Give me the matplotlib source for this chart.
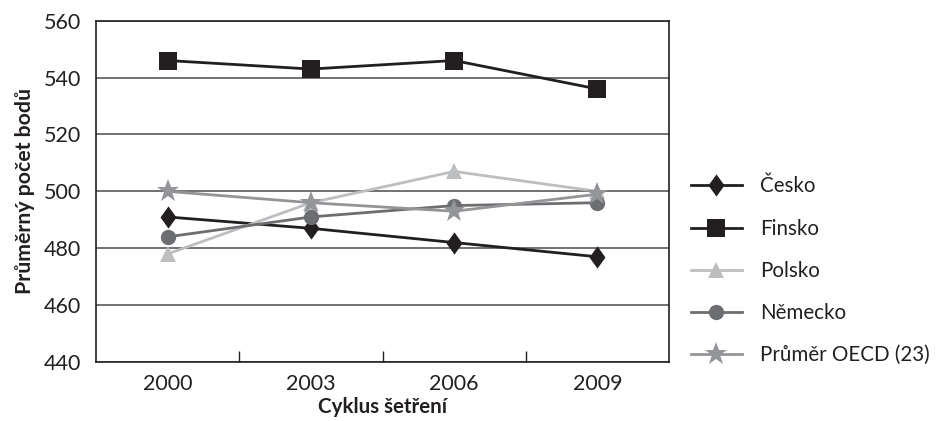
import matplotlib
matplotlib.use("Agg")
import matplotlib.pyplot as plt

plt.rcParams['font.family'] = ['Lato', 'DejaVu Sans']

cycles = ["2000", "2003", "2006", "2009"]
cesko = [491, 487, 482, 477]
finsko = [546, 543, 546, 536]
polsko = [478, 496, 507, 500]
nemecko = [484, 491, 495, 496]
oecd = [500, 496, 493, 499]

series_names = ["Česko", "Finsko", "Polsko", "Německo", "Průměr OECD (23)"]

diamond = [(0, 1), (0.72, 0), (0, -1), (-0.72, 0), (0, 1)]
styles = [
    dict(color="#231f20", marker=diamond, ms=16, mfc="#231f20"),
    dict(color="#231f20", marker="s", ms=13, mfc="#231f20"),
    dict(color="#bcbec0", marker="^", ms=12, mfc="#bcbec0"),
    dict(color="#6d6e71", marker="o", ms=11, mfc="#6d6e71"),
    dict(color="#939598", marker="*", ms=17, mfc="#939598"),
]
data = [cesko, finsko, polsko, nemecko, oecd]

fig = plt.figure(figsize=(9.39, 4.21), dpi=100)
ax = fig.add_axes([96/939, 1-362/421, (669-96)/939, (362-20.7)/421])

x = list(range(len(cycles)))
handles = []
for name, vals, st in zip(series_names, data, styles):
    h, = ax.plot(x, vals, lw=2, color=st["color"], marker=st["marker"],
                 markersize=st["ms"], markerfacecolor=st["mfc"],
                 markeredgecolor=st["mfc"], markeredgewidth=0, label=name)
    handles.append(h)

ax.set_xlim(-0.5, len(cycles) - 0.5)
ax.set_ylim(440, 560)
ax.set_yticks(range(440, 561, 20))
ax.yaxis.grid(True, color="#58595b", lw=1.2)
ax.set_axisbelow(True)
ax.tick_params(axis="y", length=0, pad=11, labelsize=15.5, colors="#231f20")
ax.set_xticks(x)
ax.set_xticklabels(cycles)
ax.tick_params(axis="x", which="major", length=0, pad=9, labelsize=15.5, colors="#231f20")
ax.set_xticks([i + 0.5 for i in x[:-1]], minor=True)
ax.tick_params(axis="x", which="minor", direction="in", length=8, width=1, color="#231f20")
for s in ax.spines.values():
    s.set_color("#231f20")
    s.set_linewidth(1.2)

ax.set_ylabel("Průměrný počet bodů", fontsize=15.3, fontweight="bold", color="#231f20", labelpad=6)
ax.set_xlabel("Cyklus šetření", fontsize=14.8, fontweight="bold", color="#231f20", labelpad=2)

leg = fig.legend(handles=handles, loc="upper left", bbox_to_anchor=(672/939, 1-158/421),
                 frameon=False, fontsize=14.8, handlelength=2.5, handletextpad=0.88,
                 labelspacing=1.08, labelcolor="#231f20")

fig.savefig("out.png", dpi=100)
